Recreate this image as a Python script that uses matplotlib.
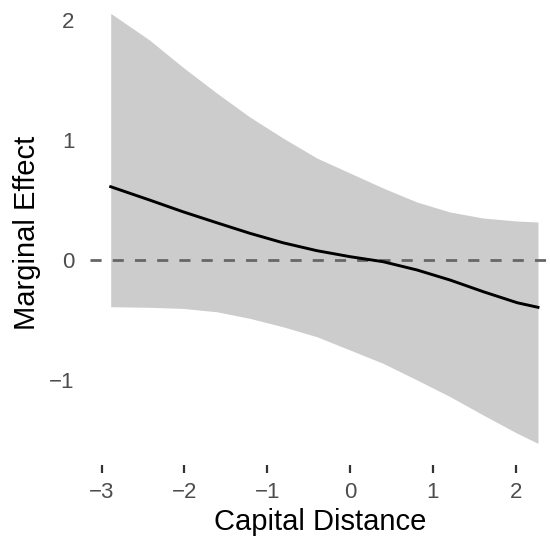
import numpy as np
import matplotlib
matplotlib.use("Agg")
from matplotlib import pyplot as plt

plt.rcParams['font.family'] = ['Liberation Sans', 'DejaVu Sans']

# values
distance = [-2.89, -2.42, -2.02, -1.61, -1.21, -0.81, -0.40, 0.0,
            0.40, 0.81, 1.21, 1.61, 2.02, 2.27]
effect = [0.611, 0.500, 0.403, 0.311, 0.223, 0.144, 0.078, 0.028,
          -0.014, -0.083, -0.167, -0.264, -0.356, -0.394]
upper = [2.056, 1.833, 1.608, 1.392, 1.192, 1.017, 0.850, 0.725,
         0.600, 0.483, 0.400, 0.350, 0.325, 0.317]
lower = [-0.389, -0.394, -0.403, -0.431, -0.486, -0.556, -0.639, -0.750,
         -0.861, -1.000, -1.139, -1.292, -1.444, -1.528]
x_ticks = [-3, -2, -1, 0, 1, 2]
y_ticks = [-1, 0, 1, 2]


def lab(t):
    return "\u2212" + str(-t) if t < 0 else str(t)


fig = plt.figure(figsize=(5.5, 5.39), dpi=100)
ax = fig.add_axes([90 / 550, 74 / 539, 460 / 550, 465 / 539])

ax.fill_between(distance, lower, upper, color="#cccccc", linewidth=0)
ax.axhline(0, color="#666666", linewidth=2, dashes=(4, 4))
ax.plot(distance, effect, color="black", linewidth=2.1)

ax.set_xlim(-3.14, 2.415)
ax.set_ylim(-1.708, 2.167)
ax.set_xticks(x_ticks)
ax.set_yticks(y_ticks)
ax.set_xticklabels([lab(t) for t in x_ticks])
ax.set_yticklabels([lab(t) for t in y_ticks])

for s in ax.spines.values():
    s.set_visible(False)
ax.tick_params(axis="x", length=5.5, width=1.6, color="#333333",
               labelsize=16, labelcolor="#4d4d4d", pad=7)
ax.tick_params(axis="y", length=0, labelsize=16, labelcolor="#4d4d4d", pad=11)

ax.set_xlabel("Capital Distance", fontsize=21, labelpad=3)
ax.set_ylabel("Marginal Effect", fontsize=21, labelpad=6)

fig.savefig("out.png", dpi=100)
